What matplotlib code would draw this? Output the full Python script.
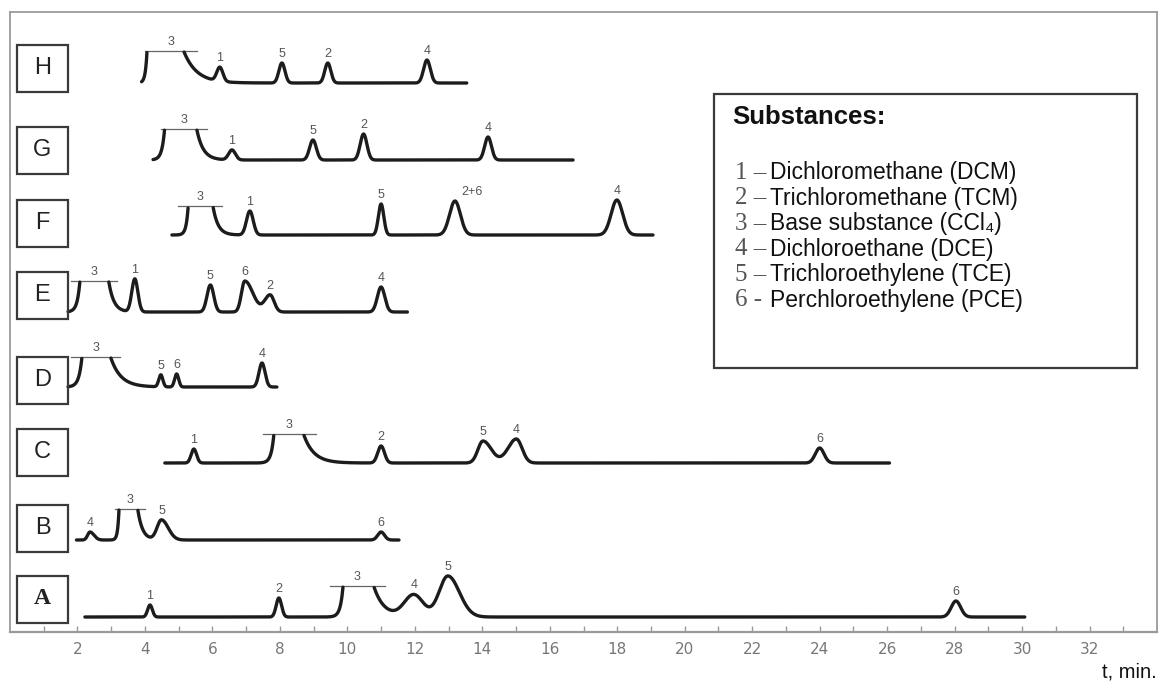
import numpy as np
import matplotlib
matplotlib.use("Agg")
import matplotlib.pyplot as plt
from matplotlib.patches import Rectangle

W, H = 1164, 682
INK = "#1c1c1c"; GREY = "#555555"; FRAME = "#9a9a9a"
SANS = ["Liberation Sans", "DejaVu Sans"]
SERIF = ["Liberation Serif", "DejaVu Serif"]

# ── data: (label, retention time min, height, sigma left, sigma right) ──────
A_PEAKS = [("1", 4.15, 12, .07, .07), ("2", 7.97, 19, .08, .08),
           ("4", 11.97, 22, .28, .28), ("5", 12.98, 41, .26, .34),
           ("6", 28.04, 16, .14, .14)]
B_PEAKS = [("4", 2.37, 8, .07, .12), ("5", 4.49, 20, .13, .2),
           ("6", 11.0, 8, .1, .1)]
C_PEAKS = [("1", 5.45, 14, .08, .08), ("2", 11.0, 17, .1, .1),
           ("5", 14.02, 22, .15, .25), ("4", 15.01, 24, .25, .17),
           ("6", 24.0, 15, .13, .13)]
D_PEAKS = [("5", 4.47, 12, .06, .06), ("6", 4.94, 13, .06, .06),
           ("4", 7.47, 24, .09, .09)]
E_PEAKS = [("1", 3.70, 33, .09, .09), ("5", 5.94, 27, .1, .1),
           ("6", 6.96, 31, .1, .24), ("2", 7.71, 17, .16, .12),
           ("4", 11.0, 25, .11, .11)]
F_PEAKS = [("1", 7.11, 24, .1, .1), ("5", 11.0, 31, .08, .08),
           ("2+6", 13.19, 34, .16, .16), ("4", 17.99, 35, .17, .17)]
G_PEAKS = [("1", 6.58, 10, .1, .1), ("5", 8.98, 20, .1, .1),
           ("2", 10.48, 26, .1, .1), ("4", 14.17, 23, .1, .1)]
H_PEAKS = [("1", 6.22, 14, .09, .09), ("5", 8.06, 20, .09, .09),
           ("2", 9.42, 20, .09, .09), ("4", 12.36, 23, .1, .1)]

# base substance 3 (off-scale): rise end, fall start, height, tau rise, tau fall, bracket
A_BASE = (9.87, 10.79, 30, .08, .30, 9.48, 11.11)
B_BASE = (3.23, 3.79, 30, .04, .14, 3.11, 4.00)
C_BASE = (7.82, 8.71, 28, .08, .30, 7.50, 9.07)
D_BASE = (2.13, 2.99, 29, .09, .30, 1.81, 3.26)
E_BASE = (2.07, 2.93, 30, .08, .15, 1.81, 3.17)
F_BASE = (5.28, 6.02, 28, .06, .15, 4.98, 6.28)
G_BASE = (4.58, 5.54, 30, .08, .19, 4.48, 5.84)
H_BASE = (4.06, 5.16, 31, .05, .38, 4.00, 5.54)

ROW_NAMES = ["A", "B", "C", "D", "E", "F", "G", "H"]
ROW_SPAN = [(2.22, 30.08), (1.97, 11.53), (4.59, 26.07), (1.72, 7.91),
            (1.72, 11.78), (4.80, 19.06), (4.24, 16.69), (3.90, 13.54)]
ROW_PEAKS = [A_PEAKS, B_PEAKS, C_PEAKS, D_PEAKS, E_PEAKS, F_PEAKS, G_PEAKS, H_PEAKS]
ROW_BASE3 = [A_BASE, B_BASE, C_BASE, D_BASE, E_BASE, F_BASE, G_BASE, H_BASE]

SUB_NUM = ["1", "2", "3", "4", "5", "6"]
SUB_DASH = ["–", "–", "–", "–", "–", "-"]
SUB_NAME = ["Dichloromethane (DCM)", "Trichloromethane (TCM)",
            "Base substance (CCl₄)", "Dichloroethane (DCE)",
            "Trichloroethylene (TCE)", "Perchloroethylene (PCE)"]

# ── layout (plot units: x in minutes, y in pixels above the axis) ────────────
ROW_Y = [15, 92, 169, 245, 320, 397, 472, 549]
BOX_Y = [33, 104, 180, 252, 337, 409, 482, 564]
LABEL_DX = {"2+6": 0.5}


def px2t(px):
    return (px - 10) / (1147 / 34)


def trace(t, peaks, base):
    y = np.zeros_like(t)
    for _, t0, h, sl, sr in peaks:
        s = np.where(t < t0, sl, sr)
        y += h * np.exp(-0.5 * ((t - t0) / s) ** 2)
    tl, tr, hb, tau_r, tau_f = base[:5]
    y += np.where(t < tl, hb * np.exp(np.minimum(t - tl, 0) / tau_r), 0)
    y += np.where(t > tr, hb * np.exp(-np.maximum(t - tr, 0) / tau_f), 0)
    y[(t > tl) & (t < tr)] = np.nan
    return y


fig = plt.figure(figsize=(W / 100, H / 100), dpi=100, facecolor="white")
ax = fig.add_axes([10 / W, 50 / H, 1147 / W, 620 / H])
ax.set_xlim(0, 34)
ax.set_ylim(0, 620)

for name, y0, yb, span, peaks, base in zip(ROW_NAMES, ROW_Y, BOX_Y, ROW_SPAN,
                                            ROW_PEAKS, ROW_BASE3):
    t = np.linspace(span[0], span[1], 4000)
    sig = trace(t, peaks, base)
    ax.plot(t, y0 + sig, color=INK, lw=2.4, solid_capstyle="round",
            solid_joinstyle="round", zorder=3)

    # peak numbers
    for lab, t0, h, sl, sr in peaks:
        top = np.interp(t0, t, np.nan_to_num(sig))
        ax.text(t0 + LABEL_DX.get(lab, 0), y0 + top + 3, lab, ha="center",
                va="bottom", fontsize=9, color=GREY, family=SANS)

    # off-scale base peak bracket
    tl, tr, hb, _, _, b0, b1 = base
    ax.plot([b0, b1], [y0 + hb + 1.5] * 2, color="#666666", lw=0.9, zorder=2)
    ax.text((b0 + b1) / 2, y0 + hb + 4, "3", ha="center", va="bottom",
            fontsize=9, color=GREY, family=SANS)

    # row letter box
    bx0, bx1 = px2t(17), px2t(68)
    ax.add_patch(Rectangle((bx0, yb - 23.5), bx1 - bx0, 47, fill=False,
                           ec="#3a3a3a", lw=1.6, zorder=4))
    if name == "A":
        ax.text((bx0 + bx1) / 2, yb, name, ha="center", va="center",
                fontsize=17, family=SERIF, weight="bold", color="#222222")
    else:
        ax.text((bx0 + bx1) / 2, yb, name, ha="center", va="center",
                fontsize=17, family=SANS, color="#222222")

# ── substances legend box ────────────────────────────────────────────────────
lx0, lx1 = px2t(714), px2t(1137)
ax.add_patch(Rectangle((lx0, 632 - 368), lx1 - lx0, 368 - 94, fill=False,
                       ec="#3a3a3a", lw=1.6, zorder=4))
ax.text(px2t(732), 632 - 117, "Substances:", ha="left", va="center",
        fontsize=18.5, weight="bold", family=SANS, color="#111111")
for i, (num, dash, nm) in enumerate(zip(SUB_NUM, SUB_DASH, SUB_NAME)):
    yy = 459 - i * 25.4
    ax.text(px2t(735), yy, f"{num} {dash}", ha="left", va="center",
            fontsize=18, family=SERIF, color="#555555")
    ax.text(px2t(770), yy, nm, ha="left", va="center",
            fontsize=16.5, family=SANS, color="#111111")

# ── axes styling ─────────────────────────────────────────────────────────────
ax.set_xticks(range(2, 33, 2))
ax.set_xticks(range(1, 34, 2), minor=True)
ax.set_yticks([])
ax.tick_params(axis="x", which="both", direction="in", length=4, width=1,
               color=FRAME, labelsize=11, labelcolor="#777777", pad=7)
for lab in ax.get_xticklabels():
    lab.set_family("DejaVu Sans")
for sp in ax.spines.values():
    sp.set_edgecolor(FRAME)
    sp.set_linewidth(1.3)
ax.spines["bottom"].set_linewidth(1.6)

fig.text(1157 / W, 1 - 672 / H, "t, min.", ha="right", va="center",
         fontsize=14.5, family=SANS, color="#111111")

fig.savefig("out.png", dpi=100, facecolor="white")
